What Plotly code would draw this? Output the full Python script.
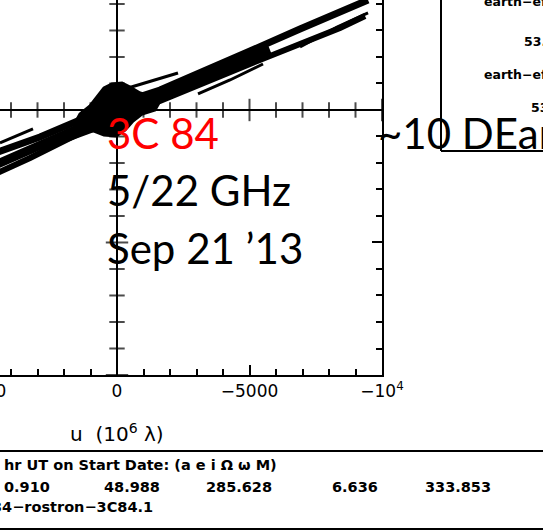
import plotly.graph_objects as go

# ---------------- data (u, v in 10^6 lambda) ----------------
# dense main band of space-ground tracks
band1_u = [4604, 2906, 1396, 0, -1510, -3132, -5019, -5774]
band1_v = [-2076, -1359, -679, 0, 528, 1208, 1962, 2264]
band2_u = [4604, 2906, 1396, 0, -1623, -3132, -5019, -6906, -8416, -9473]
band2_v = [-1623, -1019, -377, 226, 755, 1434, 2227, 3057, 3661, 4151]
band3_u = [4604, 3283, 1774, 0, -1623, -3132, -5019, -6906, -8416, -9360]
band3_v = [-2415, -1812, -1057, -189, 340, 981, 1736, 2491, 3095, 3548]

# thin separate tracks
thin_tracks = [
    ([4416, 3170], [-1245, -717]),
    ([2151, 830], [-1245, -755]),
    ([-415, -2302], [830, 1396]),
    ([-3057, -4265, -5510], [604, 1132, 1736]),
    ([-6906, -8303, -9473], [2378, 3132, 3661]),
]

# dense ground-ground coverage near the origin
blob_u = [1623, 1396, 1019, 717, 491, 189, -189, -491, -868, -1321, -1623, -1434,
          -944, -604, -302, 38, 491, 868, 1245, 1547]
blob_v = [-566, -151, 151, 528, 830, 981, 1019, 868, 642, 528, 340, 0,
          -151, -415, -755, -981, -944, -793, -755, -755]

# axis ticks
x_tickvals = [0, -5000, -10000]
x_ticktext = ["0", "\u22125000", "\u221210<sup>4</sup>"]
axis_cross_ticks = [-10000, -9000, -8000, -7000, -6000, -5000, -4000, -3000, -2000,
                    -1000, 1000, 2000, 3000, 4000]

orbit_header = "hr UT on Start Date: (a e i \u03a9 \u03c9 M)"
orbit_values = ["0.910", "48.988", "285.628", "6.636", "333.853"]
orbit_value_px = [3, 103, 205, 331, 424]
run_name = "34\u2212rostron\u22123C84.1"

# ---------------- figure ----------------
PW, PH = 382.0, 375.0


def px(x):
    return x / PW


def py(y):
    return (PH - y) / PH


fig = go.Figure()

fig.add_trace(go.Scatter(x=blob_u, y=blob_v, mode="lines", fill="toself",
                         fillcolor="black", line=dict(color="black", width=3),
                         hoverinfo="skip"))
for u, v, w in [(band1_u, band1_v, 9), (band2_u, band2_v, 7), (band3_u, band3_v, 6)]:
    fig.add_trace(go.Scatter(x=u, y=v, mode="lines", line=dict(color="black", width=w),
                             hoverinfo="skip"))
for u, v in thin_tracks:
    fig.add_trace(go.Scatter(x=u, y=v, mode="lines", line=dict(color="black", width=3),
                             hoverinfo="skip"))

# crossing ticks on the central axes
big = [abs(t) % 5000 == 0 for t in axis_cross_ticks]
fig.add_trace(go.Scatter(
    x=axis_cross_ticks, y=[0] * len(axis_cross_ticks), mode="markers",
    marker=dict(symbol="line-ns", size=[16 if b else 11 for b in big],
                line=dict(color="black", width=2)), hoverinfo="skip"))
fig.add_trace(go.Scatter(
    x=[0] * len(axis_cross_ticks), y=axis_cross_ticks, mode="markers",
    marker=dict(symbol="line-ew", size=[16 if b else 11 for b in big],
                line=dict(color="black", width=2)), hoverinfo="skip"))

fig.update_layout(
    width=543, height=532,
    margin=dict(l=0, r=543 - PW, t=0, b=532 - PH),
    paper_bgcolor="white", plot_bgcolor="white",
    showlegend=False,
    font=dict(family="DejaVu Sans", color="black"),
    xaxis=dict(range=[4415, -10000], showgrid=False, zeroline=True,
               zerolinecolor="black", zerolinewidth=2,
               showline=True, linecolor="black", linewidth=2,
               ticks="inside", ticklen=10, tickwidth=2, tickcolor="black",
               tickmode="array", tickvals=x_tickvals, ticktext=x_ticktext,
               tickfont=dict(family="DejaVu Sans", size=17, color="black"),
               minor=dict(ticks="inside", ticklen=6, tickwidth=1.5, tickcolor="black",
                          tickmode="linear", tick0=0, dtick=1000)),
    yaxis=dict(range=[-10000, 4150], side="right", showgrid=False, zeroline=True,
               zerolinecolor="black", zerolinewidth=2,
               showline=True, linecolor="black", linewidth=2,
               ticks="inside", ticklen=10, tickwidth=2, tickcolor="black",
               tickmode="linear", tick0=0, dtick=5000, showticklabels=False,
               minor=dict(ticks="inside", ticklen=6, tickwidth=1.5, tickcolor="black",
                          tickmode="linear", tick0=0, dtick=1000)),
)

ann = []
# partially visible tick label at the left edge
ann.append(dict(x=px(-15.5), y=py(391), xref="paper", yref="paper", text="5000",
                showarrow=False, xanchor="center", yanchor="middle",
                font=dict(family="DejaVu Sans", size=17, color="black")))
# axis title
ann.append(dict(x=px(117), y=py(433), xref="paper", yref="paper",
                text="u  (10<sup>6</sup> \u03bb)", showarrow=False,
                xanchor="center", yanchor="middle",
                font=dict(family="DejaVu Sans", size=20, color="black")))

big_font = dict(family="Lato", size=42, color="black")
ann.append(dict(x=px(105), y=py(133), xref="paper", yref="paper", text="3C 84",
                showarrow=False, xanchor="left", yanchor="middle",
                font=dict(family="Lato", size=42, color="red")))
ann.append(dict(x=px(105), y=py(190), xref="paper", yref="paper", text="5/22 GHz",
                showarrow=False, xanchor="left", yanchor="middle", font=big_font))
ann.append(dict(x=px(105), y=py(248), xref="paper", yref="paper", text="Sep 21 \u201913",
                showarrow=False, xanchor="left", yanchor="middle", font=big_font))
ann.append(dict(x=px(376), y=py(133), xref="paper", yref="paper", text="~10 DEarth",
                showarrow=False, xanchor="left", yanchor="middle", font=big_font))

# baseline legend box (top right)
small_bold = dict(family="DejaVu Sans", size=12.5, color="black", weight="bold")
for txt, x, y in [("earth\u2212effelsberg", 482, 2), ("53.4", 522, 42),
                  ("earth\u2212effelsberg", 482, 75), ("53.4", 529, 107)]:
    ann.append(dict(x=px(x), y=py(y), xref="paper", yref="paper", text=txt,
                    showarrow=False, xanchor="left", yanchor="middle", font=small_bold))

# orbit info block
info_font = dict(family="DejaVu Sans", size=14.5, color="black", weight="bold")
ann.append(dict(x=px(2), y=py(465), xref="paper", yref="paper", text=orbit_header,
                showarrow=False, xanchor="left", yanchor="middle", font=info_font))
for txt, x in zip(orbit_values, orbit_value_px):
    ann.append(dict(x=px(x - 1), y=py(487), xref="paper", yref="paper", text=txt,
                    showarrow=False, xanchor="left", yanchor="middle", font=info_font))
ann.append(dict(x=px(-10), y=py(507), xref="paper", yref="paper", text=run_name,
                showarrow=False, xanchor="left", yanchor="middle", font=info_font))
fig.update_layout(annotations=ann)

shapes = [
    dict(type="line", xref="paper", yref="paper", x0=px(441), x1=px(441), y0=py(-2), y1=py(151),
         line=dict(color="black", width=2)),
    dict(type="line", xref="paper", yref="paper", x0=px(441), x1=px(545), y0=py(151), y1=py(151),
         line=dict(color="black", width=2)),
    dict(type="line", xref="paper", yref="paper", x0=px(-2), x1=px(545), y0=py(451), y1=py(451),
         line=dict(color="black", width=2)),
    dict(type="line", xref="paper", yref="paper", x0=px(-2), x1=px(545), y0=py(529), y1=py(529),
         line=dict(color="black", width=2)),
]
fig.update_layout(shapes=shapes)

fig.write_html("out.html")
